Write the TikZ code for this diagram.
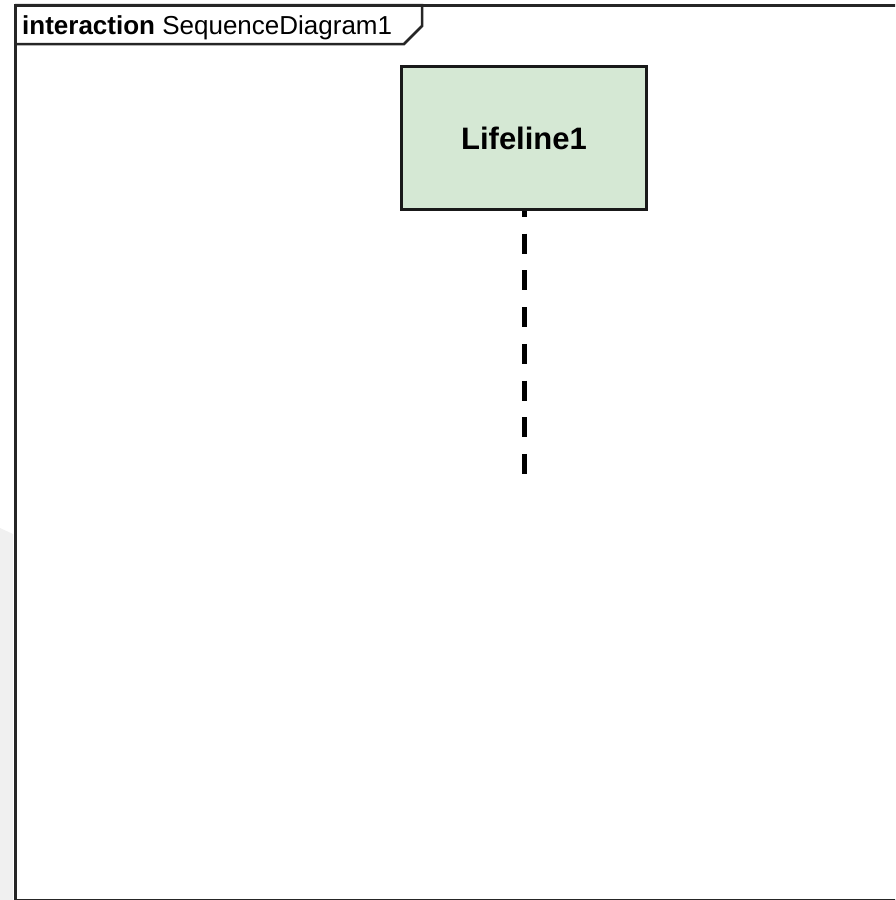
\documentclass[tikz,border=0pt]{standalone}
\usepackage{fontspec}
\setmainfont{Liberation Sans}
\usetikzlibrary{positioning}
\definecolor{lifegreen}{RGB}{213, 232, 212}
\definecolor{panelgray}{RGB}{240, 240, 240}

\begin{document}
\begin{tikzpicture}[x=1pt, y=-1pt,
    frameline/.style={draw=black!85, line width=3pt},
    lifebox/.style={draw=black!90, line width=3pt, fill=lifegreen,
                    minimum width=245pt, minimum height=143pt,
                    font=\fontsize{31}{36}\selectfont\bfseries},
    lifeline/.style={draw=black, line width=5pt,
                     dash pattern=on 20pt off 16.7pt, dash phase=14pt}
  ]
    \useasboundingbox (0,0) rectangle (895,900);
    \clip (0,0) rectangle (895,900);
    \fill[panelgray] (0,528) -- (13,534) -- (13,900) -- (0,900) -- cycle;

    % interaction frame and its tab
    \draw[frameline, fill=white] (15,5) rectangle (910,900);
    \draw[frameline, line width=2.5pt] (15,5) -- (422,5) -- (422,26)
          -- (404,44) -- (15,44);
    \node[anchor=west, inner sep=0pt, font=\fontsize{26}{30}\selectfont]
          (tabtitle) at (22,28) {\textbf{interaction} SequenceDiagram1};

    % lifeline
    \node[lifebox] (life1) at (524,138) {Lifeline1};
    \coordinate (life1end) at (524,475);
    \draw[lifeline] (life1) -- (life1end);
\end{tikzpicture}
\end{document}
